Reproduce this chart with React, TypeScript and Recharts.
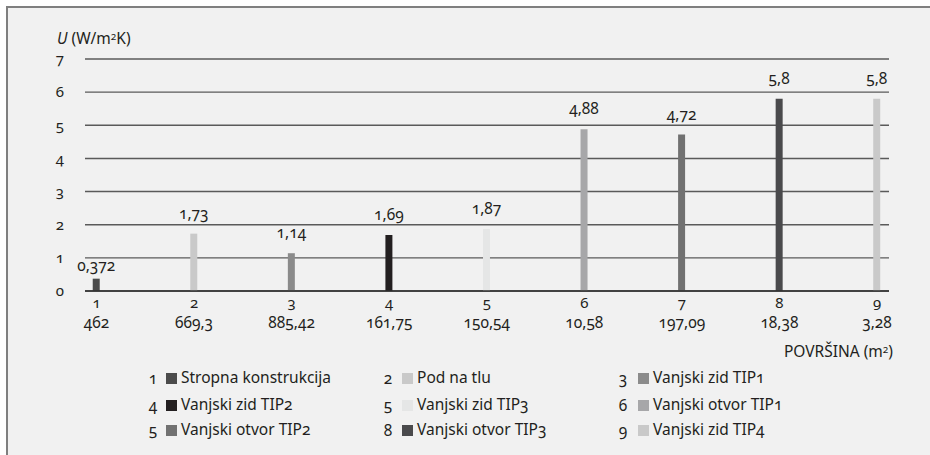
import { Bar, BarChart, CartesianGrid, Cell, LabelList, XAxis, YAxis } from "recharts";

const ids = [1, 2, 3, 4, 5, 6, 7, 8, 9];
const areas = ["462", "669,3", "885,42", "161,75", "150,54", "10,58", "197,09", "18,38", "3,28"];
const uValues = [0.372, 1.73, 1.14, 1.69, 1.87, 4.88, 4.72, 5.8, 5.8];
const barColors = ["#4b4b4b", "#c9c9c9", "#8b8b8b", "#231f20", "#e5e6e6", "#a7a7a9", "#717171", "#4a4a4c", "#c9c9c9"];
const yTicks = [0, 1, 2, 3, 4, 5, 6, 7];

const legendNumbers = ["1", "2", "3", "4", "5", "6", "5", "8", "9"];
const legendLabels = [
  "Stropna konstrukcija",
  "Pod na tlu",
  "Vanjski zid TIP1",
  "Vanjski zid TIP2",
  "Vanjski zid TIP3",
  "Vanjski otvor TIP1",
  "Vanjski otvor TIP2",
  "Vanjski otvor TIP3",
  "Vanjski zid TIP4",
];

const data = ids.map((id, i) => ({ id, area: areas[i], u: uValues[i] }));

const FONT = "'Noto Sans', sans-serif";
const TEXT = "#231f20";
const formatValue = (v: number) => String(v).replace(".", ",");

const XTick = ({ x, y, payload }: any) => {
  const i = ids.indexOf(payload.value);
  return (
    <g>
      <text x={x} y={y + 17} textAnchor="middle" fontSize={15} fill={TEXT}>
        {payload.value}
      </text>
      <text x={x} y={y + 37} textAnchor="middle" fontSize={15.5} fill={TEXT}>
        {areas[i]}
      </text>
    </g>
  );
};

// value label above each bar; short bars get a tighter gap so the label stays under the 1-gridline
const ValueLabel = ({ x, y, width, value }: any) => {
  const gap = Number(value) < 0.5 ? 8 : 15;
  return (
    <text x={x + width / 2} y={y - gap} textAnchor="middle" fontSize={15.5} fill={TEXT}>
      {formatValue(Number(value))}
    </text>
  );
};

const legendCols = [
  { num: 153, box: 166, text: 181 },
  { num: 388, box: 402, text: 417 },
  { num: 623, box: 638, text: 653 },
];
const legendRows = [378, 405, 430];

export default function App() {
  return (
    <div
      style={{
        position: "absolute",
        left: 0,
        top: 0,
        width: 930,
        height: 455,
        background: "#ffffff",
        fontFamily: FONT,
        fontVariantNumeric: "oldstyle-nums",
        color: TEXT,
        overflow: "hidden",
      }}
    >
      <div
        style={{
          position: "absolute",
          left: 6,
          top: 6,
          width: 924,
          height: 449,
          boxSizing: "border-box",
          borderTop: "2px solid #7f7f7f",
          borderLeft: "2px solid #7f7f7f",
          background: "#f1f1f1",
        }}
      />
      <div style={{ position: "absolute", left: 0, top: 0 }}>
        <BarChart
          width={930}
          height={455}
          data={data}
          margin={{ top: 59, right: 41, bottom: 0, left: 0 }}
          style={{ fontFamily: FONT }}
        >
          <CartesianGrid vertical={false} stroke="#5a5a5a" strokeWidth={1.4} />
          <XAxis
            dataKey="id"
            type="number"
            domain={[1, 9]}
            ticks={ids}
            interval={0}
            padding={{ left: 11.5, right: 12 }}
            height={164}
            tickLine={false}
            tickSize={0}
            tickMargin={0}
            axisLine={{ stroke: "#2e2e2e", strokeWidth: 1.7 }}
            tick={<XTick />}
          />
          <YAxis
            width={85}
            domain={[0, 7]}
            ticks={yTicks}
            axisLine={false}
            tickLine={false}
            tickSize={0}
            tickMargin={21}
            tick={{ fontSize: 15, fill: TEXT }}
          />
          <Bar dataKey="u" barSize={7} isAnimationActive={false}>
            {data.map((d, i) => (
              <Cell key={d.id} fill={barColors[i]} />
            ))}
            <LabelList dataKey="u" content={<ValueLabel />} />
          </Bar>
        </BarChart>
      </div>
      <div style={{ position: "absolute", left: 57, top: 27, fontSize: 15.5, whiteSpace: "nowrap" }}>
        <i>U</i> (W/m<span style={{ fontSize: 10, verticalAlign: "4px" }}>2</span>K)
      </div>
      <div style={{ position: "absolute", right: 930 - 893, top: 340, fontSize: 15.5, whiteSpace: "nowrap" }}>
        POVRŠINA (m<span style={{ fontSize: 10, verticalAlign: "4px" }}>2</span>)
      </div>
      {legendLabels.map((label, i) => {
        const col = legendCols[i % 3];
        const rowY = legendRows[Math.floor(i / 3)];
        return (
          <div key={i}>
            <div
              style={{
                position: "absolute",
                left: col.num - 10,
                width: 20,
                top: rowY - 11,
                lineHeight: "22px",
                textAlign: "center",
                fontSize: 15.5,
              }}
            >
              {legendNumbers[i]}
            </div>
            <div
              style={{
                position: "absolute",
                left: col.box,
                top: rowY - 5,
                width: 11,
                height: 11,
                background: barColors[i],
              }}
            />
            <div
              style={{
                position: "absolute",
                left: col.text,
                top: rowY - 12,
                lineHeight: "22px",
                fontSize: 15.5,
                whiteSpace: "nowrap",
              }}
            >
              {label}
            </div>
          </div>
        );
      })}
    </div>
  );
}
